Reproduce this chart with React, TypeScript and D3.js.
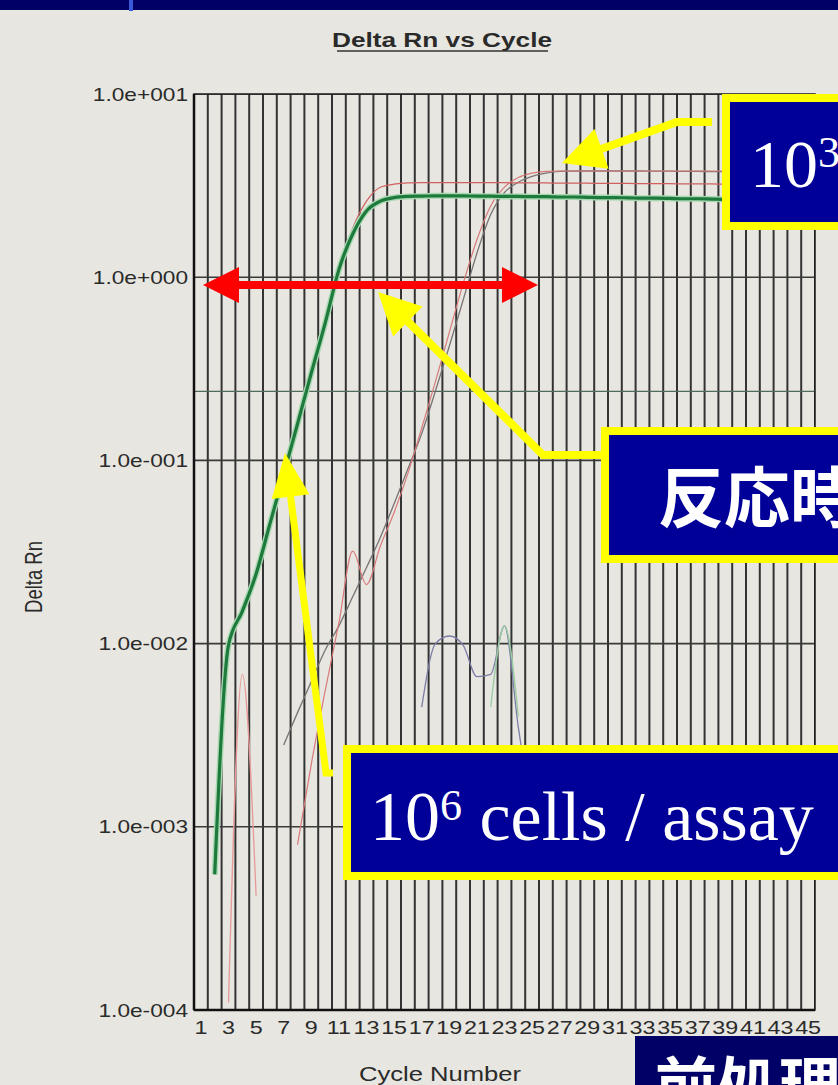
import React from 'react';
import * as d3 from 'd3';

// ---- data ----
const xTickCycles = [1, 3, 5, 7, 9, 11, 13, 15, 17, 19, 21, 23, 25, 27, 29, 31, 33, 35, 37, 39, 41, 43, 45];
const xTickLabels = ['1', '3', '5', '7', '9', '11', '13', '15', '17', '19', '21', '23', '25', '27', '29', '31', '33', '35', '37', '39', '41', '43', '45'];
const yTickValues = [10, 1, 0.1, 0.01, 0.001, 0.0001];
const yTickLabels = ['1.0e+001', '1.0e+000', '1.0e-001', '1.0e-002', '1.0e-003', '1.0e-004'];
const thresholdValue = 0.238;

// 10^6 cells / assay (thick green)
const greenCycles = [2, 3, 4, 5, 6, 7, 8, 9, 10, 11, 12, 13, 14, 15, 16, 17, 18, 19, 20, 21, 22, 23, 24, 25, 26, 27, 28, 29, 30, 31, 32, 33, 34, 35, 36, 37, 38, 39, 40, 41, 42, 43, 44, 45];
const greenValues = [0.00055, 0.0098, 0.015, 0.024, 0.045, 0.084, 0.158, 0.3, 0.56, 1.1, 1.72, 2.3, 2.6, 2.72, 2.76, 2.77, 2.78, 2.78, 2.78, 2.77, 2.77, 2.76, 2.76, 2.75, 2.75, 2.74, 2.74, 2.73, 2.72, 2.72, 2.71, 2.7, 2.7, 2.69, 2.68, 2.68, 2.67, 2.66, 2.66, 2.65, 2.65, 2.64, 2.64, 2.63];

// replicate (thin red) following the green curve
const redRepCycles = [8, 9, 10, 11, 12, 13, 14, 15, 16, 17, 18, 19, 20, 21, 22, 23, 24, 25, 26, 27, 28, 29, 30, 31, 32, 33, 34, 35, 36, 37, 38, 39, 40, 41, 42, 43, 44, 45];
const redRepValues = [0.15, 0.29, 0.55, 1.1, 1.85, 2.6, 3.1, 3.22, 3.27, 3.28, 3.28, 3.28, 3.28, 3.28, 3.28, 3.28, 3.27, 3.27, 3.27, 3.26, 3.26, 3.26, 3.25, 3.25, 3.25, 3.24, 3.24, 3.24, 3.23, 3.23, 3.23, 3.22, 3.22, 3.22, 3.21, 3.21, 3.2, 3.2];

// 10^3 cells (thin gray)
const grayCycles = [7, 8, 9, 10, 11, 12, 13, 14, 15, 16, 17, 18, 19, 20, 21, 22, 23, 24, 25, 26, 27, 28, 29, 30, 31, 32, 33, 34, 35, 36, 37, 38, 39, 40, 41, 42, 43, 44, 45];
const grayValues = [0.0028, 0.0042, 0.0062, 0.0092, 0.0125, 0.018, 0.026, 0.038, 0.058, 0.09, 0.14, 0.24, 0.42, 0.75, 1.35, 2.2, 2.9, 3.3, 3.55, 3.7, 3.78, 3.8, 3.8, 3.8, 3.8, 3.8, 3.8, 3.79, 3.79, 3.78, 3.78, 3.77, 3.77, 3.76, 3.75, 3.74, 3.73, 3.73, 3.72];

// thin red rising curve
const redCycles = [8, 9, 10, 11, 12, 13, 14, 15, 16, 17, 18, 19, 20, 21, 22, 23, 24, 25, 26, 27, 28, 29, 30, 31, 32, 33, 34, 35, 36, 37, 38, 39, 40, 41, 42, 43, 44, 45];
const redValues = [0.0008, 0.0022, 0.0055, 0.013, 0.032, 0.021, 0.034, 0.052, 0.085, 0.15, 0.27, 0.5, 0.92, 1.6, 2.45, 3.1, 3.5, 3.7, 3.78, 3.8, 3.8, 3.8, 3.8, 3.8, 3.8, 3.8, 3.8, 3.8, 3.8, 3.8, 3.8, 3.8, 3.8, 3.77, 3.76, 3.76, 3.75, 3.75];

// noise traces
const blueNoiseCycles = [17, 18, 19, 20, 21, 22, 23, 24, 25];
const blueNoiseValues = [0.0045, 0.01, 0.011, 0.0098, 0.0066, 0.0068, 0.0125, 0.0035, 0.0012];
const greenNoiseCycles = [22, 23, 24];
const greenNoiseValues = [0.0045, 0.0125, 0.004];
const pinkNoiseCycles = [3, 4, 5];
const pinkNoiseValues = [0.00011, 0.0068, 0.00042];

// ---- layout ----
const W = 838;
const H = 1085;
const L = 194, R = 815, T = 94, B = 1010;

const x = d3.scaleLinear().domain([0.5, 45.5]).range([L, R]);
const y = d3.scaleLog().domain([1e-4, 10]).range([B, T]);

const lineGen = d3
  .line<[number, number]>()
  .x((d) => x(d[0]))
  .y((d) => y(d[1]))
  .curve(d3.curveMonotoneX);

function pathOf(cs: number[], vs: number[]) {
  return lineGen(cs.map((c, i) => [c, vs[i]] as [number, number])) || '';
}

function head(tip: [number, number], from: [number, number], len = 42, hw = 21) {
  const dx = tip[0] - from[0];
  const dy = tip[1] - from[1];
  const d = Math.sqrt(dx * dx + dy * dy);
  const ux = dx / d, uy = dy / d;
  const bx = tip[0] - ux * len, by = tip[1] - uy * len;
  const px = -uy, py = ux;
  return `${tip[0]},${tip[1]} ${bx + px * hw},${by + py * hw} ${bx - px * hw},${by - py * hw}`;
}

function neck(tip: [number, number], from: [number, number], len = 40) {
  const dx = tip[0] - from[0];
  const dy = tip[1] - from[1];
  const d = Math.sqrt(dx * dx + dy * dy);
  return [tip[0] - (dx / d) * len, tip[1] - (dy / d) * len];
}

const SANS = 'Liberation Sans, Arial, sans-serif';
const SERIF = 'Liberation Serif, Times New Roman, serif';
const CJK = 'Noto Sans CJK JP, Noto Sans CJK SC, sans-serif';
const STRETCH = 1.28;

export default function App() {
  const gridCycles = d3.range(0, 46).map((k) => k + 0.5);

  // yellow arrows
  const a1From: [number, number] = [677, 122];
  const a1Tip: [number, number] = [562, 163];
  const a2From: [number, number] = [543, 455];
  const a2Tip: [number, number] = [378, 292];
  const a3From: [number, number] = [326, 773];
  const a3Tip: [number, number] = [285, 453];
  const n1 = neck(a1Tip, a1From);
  const n2 = neck(a2Tip, a2From);
  const n3 = neck(a3Tip, a3From);

  const redY = 285;
  const redL = 203, redR = 538;

  return (
    <svg
      width={W}
      height={H}
      style={{ position: 'absolute', left: 0, top: 0, display: 'block' }}
      xmlns="http://www.w3.org/2000/svg"
    >
      <defs>
        <clipPath id="plotClip">
          <rect x={L} y={T} width={R - L} height={B - T} />
        </clipPath>
      </defs>
      <rect x={0} y={0} width={W} height={H} fill="#e7e6e0" />
      {/* top band */}
      <rect x={0} y={0} width={W} height={10} fill="#000066" />
      <rect x={129} y={0} width={4} height={11} fill="#3a5ad8" />

      {/* title */}
      <text
        transform={`translate(442,47) scale(${STRETCH},1)`}
        textAnchor="middle"
        fontFamily={SANS}
        fontSize={20.5}
        fill="#2a2a2a"
        fontWeight={700}
      >
        Delta Rn vs Cycle
      </text>
      <line x1={337} x2={548} y1={51} y2={51} stroke="#333" strokeWidth={1.6} />

      {/* plot grid */}
      <g clipPath="url(#plotClip)">
        {gridCycles.map((c, i) => (
          <line key={'vg' + i} x1={x(c)} x2={x(c)} y1={T} y2={B} stroke="#333" strokeWidth={2} />
        ))}
        {yTickValues.map((v, i) => (
          <line key={'hg' + i} x1={L} x2={R} y1={y(v)} y2={y(v)} stroke="#3a3a3a" strokeWidth={1.6} />
        ))}
        <line x1={L} x2={R} y1={y(thresholdValue)} y2={y(thresholdValue)} stroke="#4f6b58" strokeWidth={1.3} />

        {/* curves */}
        <path d={pathOf(pinkNoiseCycles, pinkNoiseValues)} fill="none" stroke="#e79a9a" strokeWidth={1.3} />
        <path d={pathOf(blueNoiseCycles, blueNoiseValues)} fill="none" stroke="#7c7ca8" strokeWidth={1.3} />
        <path d={pathOf(greenNoiseCycles, greenNoiseValues)} fill="none" stroke="#98cca0" strokeWidth={1.3} />
        <path d={pathOf(grayCycles, grayValues)} fill="none" stroke="#7a7373" strokeWidth={1.3} />
        <path d={pathOf(redCycles, redValues)} fill="none" stroke="#d87a7a" strokeWidth={1.2} />
        <path d={pathOf(redRepCycles, redRepValues)} fill="none" stroke="#d06060" strokeWidth={1.2} />
        <path d={pathOf(greenCycles, greenValues)} fill="none" stroke="#a8d8b0" strokeWidth={6} />
        <path d={pathOf(greenCycles, greenValues)} fill="none" stroke="#1d7a3c" strokeWidth={3.2} />
      </g>
      {/* frame */}
      <rect x={L} y={T} width={R - L} height={B - T} fill="none" stroke="#1a1a1a" strokeWidth={1.5} />
      <line x1={L} x2={L} y1={T} y2={B} stroke="#111" strokeWidth={2.5} />
      <line x1={L} x2={R} y1={B} y2={B} stroke="#111" strokeWidth={2.5} />

      {/* y tick labels */}
      {yTickValues.map((v, i) => (
        <text
          key={'yt' + i}
          transform={`translate(188,${y(v) + 6.5}) scale(1.26,1)`}
          textAnchor="end"
          fontFamily={SANS}
          fontSize={18}
          fill="#2a2a2a"
        >
          {yTickLabels[i]}
        </text>
      ))}
      {/* x tick labels */}
      {xTickCycles.map((c, i) => (
        <text
          key={'xt' + i}
          transform={`translate(${x(c)},1034) scale(1.26,1)`}
          textAnchor="middle"
          fontFamily={SANS}
          fontSize={18.5}
          fill="#2a2a2a"
        >
          {xTickLabels[i]}
        </text>
      ))}
      {/* axis titles */}
      <text
        transform={`translate(440,1081) scale(${STRETCH},1)`}
        textAnchor="middle"
        fontFamily={SANS}
        fontSize={20}
        fill="#2a2a2a"
      >
        Cycle Number
      </text>
      <text
        transform={`translate(42,577) rotate(-90) scale(1,${STRETCH})`}
        textAnchor="middle"
        fontFamily={SANS}
        fontSize={18.5}
        fill="#2a2a2a"
      >
        Delta Rn
      </text>

      {/* red double arrow */}
      <line x1={redL + 34} x2={redR - 34} y1={redY} y2={redY} stroke="#ff0000" strokeWidth={8} />
      <polygon points={`${redL},${redY} ${redL + 36},${redY - 18} ${redL + 36},${redY + 18}`} fill="#ff0000" />
      <polygon points={`${redR},${redY} ${redR - 36},${redY - 18} ${redR - 36},${redY + 18}`} fill="#ff0000" />

      {/* yellow arrows */}
      <polyline points={`712,122 ${a1From[0]},${a1From[1]} ${n1[0]},${n1[1]}`} fill="none" stroke="#ffff00" strokeWidth={8} strokeLinejoin="miter" />
      <polygon points={head(a1Tip, a1From)} fill="#ffff00" />
      <polyline points={`606,455 ${a2From[0]},${a2From[1]} ${n2[0]},${n2[1]}`} fill="none" stroke="#ffff00" strokeWidth={8} strokeLinejoin="miter" />
      <polygon points={head(a2Tip, a2From)} fill="#ffff00" />
      <polyline points={`333,773 ${a3From[0]},${a3From[1]} ${n3[0]},${n3[1]}`} fill="none" stroke="#ffff00" strokeWidth={7} strokeLinejoin="miter" />
      <polygon points={head(a3Tip, a3From, 44, 19)} fill="#ffff00" />

      {/* annotation boxes */}
      <rect x={726} y={98} width={200} height={128} fill="#000099" stroke="#ffff00" strokeWidth={8} />
      <text x={750} y={187} fontFamily={SERIF} fontSize={68} fill="#ffffff">
        10
        <tspan fontSize={44} dy={-20}>3</tspan>
      </text>

      <rect x={605} y={431} width={300} height={128} fill="#000099" stroke="#ffff00" strokeWidth={8} />
      <text x={658} y={522} fontFamily={CJK} fontSize={66} fontWeight={700} fill="#ffffff">
        反応時間
      </text>

      <rect x={347} y={749} width={600} height={127} fill="#000099" stroke="#ffff00" strokeWidth={8} />
      <text x={370} y={840} fontFamily={SERIF} fontSize={70} fill="#ffffff">
        10
        <tspan fontSize={44} dy={-20}>6</tspan>
        <tspan fontSize={70} dy={20}> cells / assay</tspan>
      </text>

      <rect x={635} y={1036} width={300} height={100} fill="#000066" />
      <text x={655} y={1109} fontFamily={CJK} fontSize={62} fontWeight={700} fill="#ffffff">
        前処理
      </text>
    </svg>
  );
}
